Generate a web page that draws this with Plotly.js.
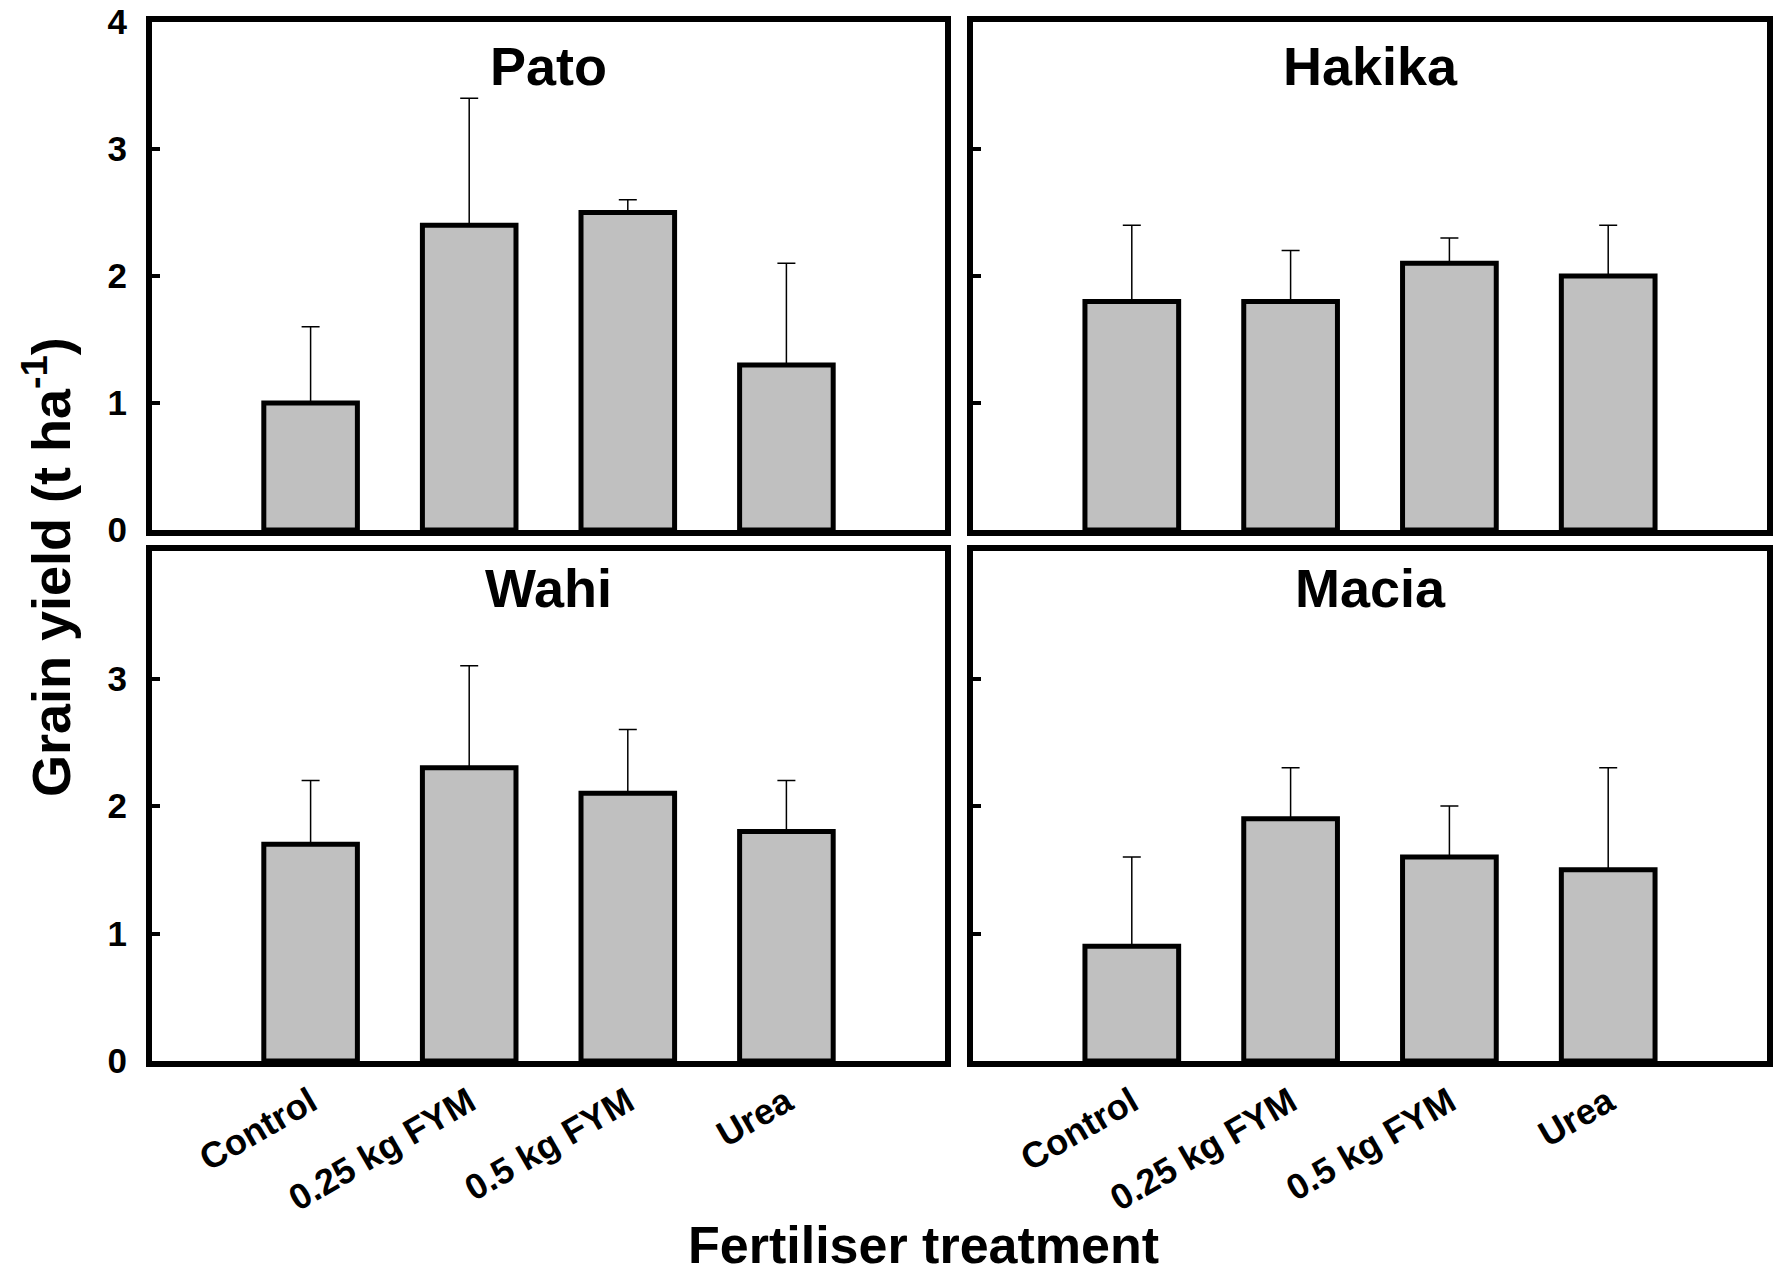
<!DOCTYPE html>
<html><head><meta charset="utf-8">
<script src="https://cdn.plot.ly/plotly-3.0.1.min.js"></script>
<style>html,body{margin:0;padding:0;background:#fff}</style>
</head><body><div id="chart" style="width:1783px;height:1276px"></div>
<script>
const treatments = ['Control', '0.25 kg FYM', '0.5 kg FYM', 'Urea'];
const panelNames = ['Pato', 'Hakika', 'Wahi', 'Macia'];
const patoYield = [1.0, 2.4, 2.5, 1.3];
const patoErr = [0.6, 1.0, 0.1, 0.8];
const hakikaYield = [1.8, 1.8, 2.1, 2.0];
const hakikaErr = [0.6, 0.4, 0.2, 0.4];
const wahiYield = [1.7, 2.3, 2.1, 1.8];
const wahiErr = [0.5, 0.8, 0.5, 0.4];
const maciaYield = [0.9, 1.9, 1.6, 1.5];
const maciaErr = [0.7, 0.4, 0.4, 0.8];
const yTicks = [0, 1, 2, 3, 4];
const yTicksLower = [0, 1, 2, 3];

const W = 1783, H = 1276;
const FONT = 'Liberation Sans, Arial, sans-serif';
const yields = [patoYield, hakikaYield, wahiYield, maciaYield];
const errs = [patoErr, hakikaErr, wahiErr, maciaErr];
const axIds = ['', '2', '3', '4'];

const traces = yields.map((y, i) => ({
  type: 'bar', x: treatments, y: y,
  xaxis: 'x' + axIds[i], yaxis: 'y' + axIds[i],
  width: 0.59,
  marker: {color: '#c0c0c0', line: {color: '#000', width: 5}},
  error_y: {type: 'data', array: errs[i], arrayminus: errs[i].map(() => 0), symmetric: false,
            color: '#000', thickness: 1.5, width: 9},
  hoverinfo: 'skip', showlegend: false
}));

const px = v => v / W;
const py = v => 1 - v / H;
const xdL = [px(152), px(945)], xdR = [px(973), px(1767)];
const ydT = [py(530), py(22)], ydB = [py(1061), py(551)];

function xax(dom, anchor, labels) {
  return {domain: dom, anchor: anchor, type: 'category', range: [-1, 4],
    showline: true, linewidth: 6, linecolor: '#000', mirror: true,
    showgrid: false, zeroline: false, ticks: '',
    showticklabels: labels, tickangle: -30,
    tickfont: {family: FONT, size: 36, color: '#000', weight: 'bold'}, fixedrange: true};
}
function yax(dom, anchor, labels, tv) {
  return {domain: dom, anchor: anchor, range: [0, 4],
    showline: true, linewidth: 6, linecolor: '#000', mirror: true,
    showgrid: false, zeroline: false, ticks: 'inside', ticklen: 8, tickwidth: 4, tickcolor: '#000',
    tickvals: tv, ticktext: tv.map(String),
    showticklabels: labels, ticklabelstandoff: 12,
    tickfont: {family: FONT, size: 35, color: '#000', weight: 'bold'}, fixedrange: true};
}

const titleFont = {family: FONT, size: 54, color: '#000', weight: 'bold'};
const titleY = [66, 66, 588, 588];
const titleX = [(152 + 945) / 2, (973 + 1767) / 2, (152 + 945) / 2, (973 + 1767) / 2];
const annotations = panelNames.map((n, i) => ({
  text: n, xref: 'paper', yref: 'paper', x: px(titleX[i]), y: py(titleY[i]),
  xanchor: 'center', yanchor: 'middle', showarrow: false, font: titleFont
}));
annotations.push({
  text: 'Grain yield (t ha<sup>-1</sup>)', xref: 'paper', yref: 'paper', x: px(47), y: py(567),
  xanchor: 'center', yanchor: 'middle', textangle: -90, showarrow: false, font: titleFont
});
annotations.push({
  text: 'Fertiliser treatment', xref: 'paper', yref: 'paper', x: px(924), y: 0,
  xanchor: 'center', yanchor: 'bottom', showarrow: false,
  font: {family: FONT, size: 52, color: '#000', weight: 'bold'}
});

const layout = {
  width: W, height: H, margin: {l: 0, r: 0, t: 0, b: 0},
  paper_bgcolor: '#fff', plot_bgcolor: '#fff',
  xaxis: xax(xdL, 'y', false), yaxis: yax(ydT, 'x', true, yTicks),
  xaxis2: xax(xdR, 'y2', false), yaxis2: yax(ydT, 'x2', false, yTicks),
  xaxis3: xax(xdL, 'y3', true), yaxis3: yax(ydB, 'x3', true, yTicksLower),
  xaxis4: xax(xdR, 'y4', true), yaxis4: yax(ydB, 'x4', false, yTicks),
  annotations: annotations, showlegend: false
};
Plotly.newPlot('chart', traces, layout, {displayModeBar: false, staticPlot: true});
</script></body></html>
